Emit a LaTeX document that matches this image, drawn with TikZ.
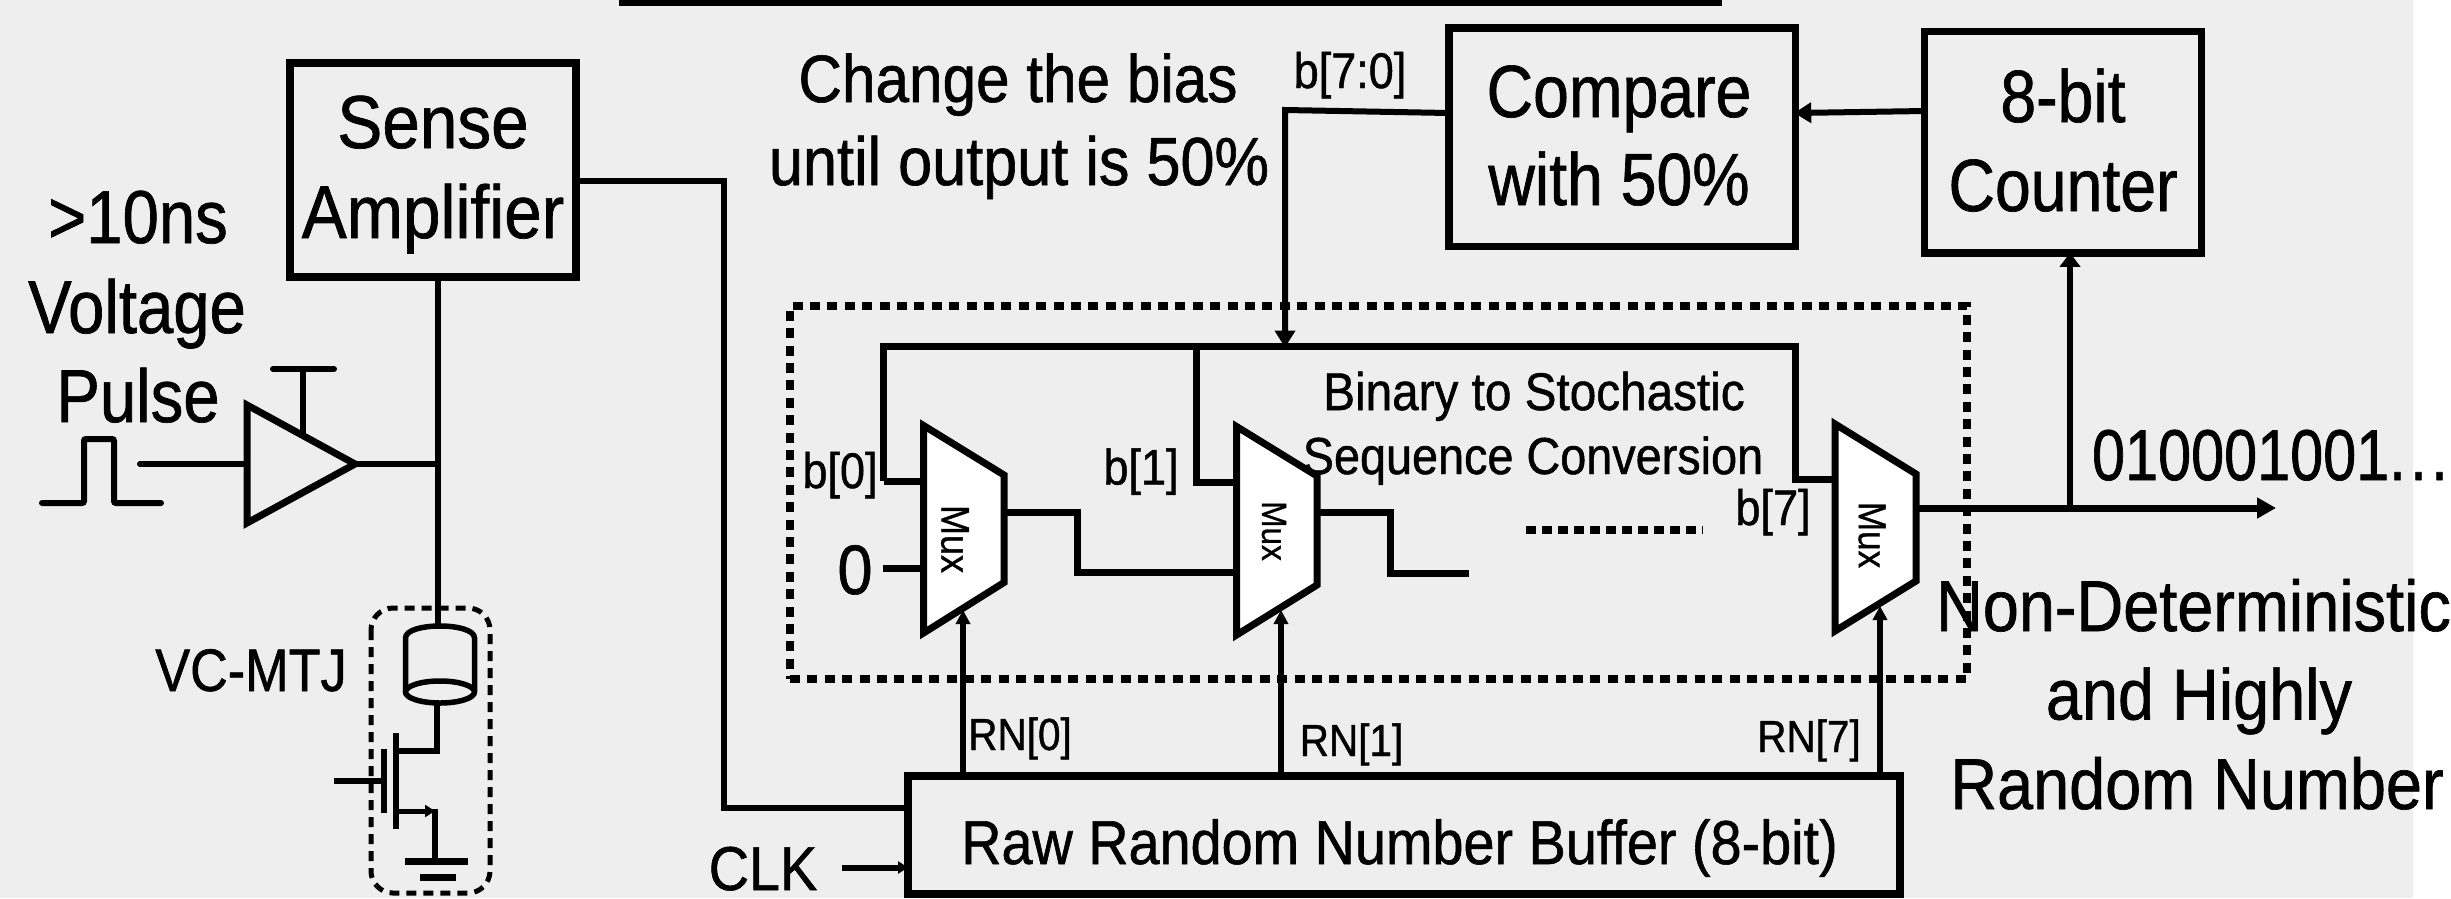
\documentclass[tikz,border=0pt]{standalone}
\usepackage{fontspec}
\setmainfont[FakeStretch=0.9,FakeBold=0.9]{Liberation Sans}
\newfontfamily\nar[FakeStretch=0.87,FakeBold=0.9]{Liberation Sans}
\newfontfamily\nnar[FakeStretch=0.825,FakeBold=0.9]{Liberation Sans}
\usetikzlibrary{arrows.meta}
\newcommand\fsz[2]{\fontsize{#1}{#2}\selectfont}
\definecolor{bgrey}{HTML}{EEEEEE}
\tikzset{
  x=1pt,y=-1pt,
  wire/.style={line width=6pt,line join=miter},
  thick wire/.style={line width=7pt},
  arrowwire/.style={line width=6pt,-{Triangle[length=17pt,width=20pt]},shorten >=-1pt},
  boxnode/.style={draw,line width=7.5pt,inner sep=0pt,outer sep=0pt,align=center},
  txt/.style={inner sep=0pt,outer sep=0pt,anchor=base},
  muxbody/.style={draw,fill=white,line width=7pt,line join=miter},
  muxtxt/.style={inner sep=0pt,rotate=-90},
  dottedbox/.style={draw,line width=8pt,dash pattern=on 10pt off 7.4pt,inner sep=0pt,outer sep=0pt},
  dashbox/.style={line width=5pt,dash pattern=on 10pt off 7pt,rounded corners=22pt},
}
\begin{document}
\begin{tikzpicture}
\useasboundingbox (0,0) rectangle (2451,898);
\clip (0,0) rectangle (2451,898);
\fill[bgrey] (0,0) rectangle (2413,898);
\fill[black] (619,0) rectangle (1722,6);

% conversion block frame
\node[dottedbox,minimum width=1177pt,minimum height=373pt] (conv) at (1378.5,492.5) {};
\coordinate (dotsa) at (1526,530);
\coordinate (dotsb) at (1703,530);
\draw[line width=8pt,dash pattern=on 10pt off 6pt] (dotsa) -- (dotsb);

% boxes
\node[boxnode,minimum width=286pt,minimum height=214pt,font=\fsz{75}{90},text height=136pt,text depth=0pt] (sa) at (433,170) {Sense\\Amplifier};
\node[boxnode,minimum width=346.5pt,minimum height=218.5pt,font=\nar\fsz{74}{88},text height=136pt,text depth=0pt] (cmp) at (1622,137) {Compare\kern6pt\\with 50\%\kern6pt};
\node[boxnode,minimum width=277pt,minimum height=221.5pt,font=\nar\fsz{74}{89},text height=138pt,text depth=0pt] (cnt) at (2063,142) {8-bit\\Counter};
\node[boxnode,minimum width=992pt,minimum height=118pt,font=\fsz{62}{62},text height=58pt,text depth=0pt] (buf) at (1404,835) {Raw Random Number Buffer (8-bit)\kern9pt};

% driver
\coordinate (bufa) at (247,405);
\coordinate (bufb) at (247,523);
\coordinate (tip) at (355,464);
\coordinate (rail) at (438,464);
\coordinate (gateT) at (302.5,369);
\coordinate (inp) at (140,464);
\draw[line width=7pt,line join=miter] (bufa) -- (tip) -- (bufb) -- cycle;
\draw[wire,line cap=round] (inp) -- (247,464);
\draw[wire] (tip) -- (rail);
\draw[wire] (gateT) -- (302.5,433);
\draw[wire,line cap=round] (273,369) -- (334,369);
\draw[wire,line cap=round,rounded corners=2pt] (42,503) -- (84,503) -- (84,439) -- (114,439) -- (114,503) -- (161,503);

% VC-MTJ
\coordinate (mtjtop) at (438,626);
\draw[line width=5.5pt] (sa.south -| rail) -- (mtjtop);
\draw[line width=5.5pt] (405.5,691) -- (405.5,638) .. controls (405.5,622) and (474.5,622) .. (474.5,638) -- (474.5,691);
\draw[line width=5.5pt] (440,692) ellipse [x radius=34.5,y radius=11];
\draw[wire] (437,703) -- (437,751) -- (395.5,751);
\draw[wire] (395.5,733) -- (395.5,829);
\draw[wire] (384,748.5) -- (384,813);
\draw[wire] (334,781) -- (384,781);
\draw[line width=5pt,-{Triangle[length=10pt,width=12pt]}] (395.5,811) -- (435,811);
\draw[wire] (435,809) -- (435,861);
\draw[thick wire] (405,861) -- (468,861);
\draw[thick wire] (420,877) -- (456,877);
\draw[dashbox] (371,608) rectangle (490,893);

% sense amp to buffer
\coordinate (bufin) at (908,808);
\draw[wire] (sa.east |- 0,181) -- (723.5,181) -- (723.5,808) -- (buf.west |- bufin);
\draw[wire,-{Triangle[length=10pt,width=12pt]}] (842,867.5) -- (buf.west |- 0,867.5);

% feedback
\coordinate (fbtop) at (1285,110);
\coordinate (bus) at (1285,346.5);
\draw[arrowwire] (cmp.west |- 0,113) -- (fbtop) -- (bus);
\draw[arrowwire] (cnt.west |- 0,111) -- (cmp.east |- 0,113);

% bias bus
\draw[thick wire,line cap=square] (883.5,481) -- (883.5,346.5) -- (1795.5,346.5) -- (1795.5,479) -- (1835,479);
\draw[thick wire] (883.5,481) -- (924,481);
\draw[thick wire] (1196,346.5) -- (1196,482) -- (1236.5,482);
\draw[thick wire] (883,568) -- (924,568);

% signal chain
\draw[thick wire] (1004,512.5) -- (1077.5,512.5) -- (1077.5,572) -- (1236.5,572);
\draw[thick wire] (1317,512) -- (1390,512) -- (1390,573) -- (1469,573);

% muxes
\draw[muxbody] (923.5,425.5) -- (1004,475) -- (1004,582.5) -- (923.5,633) -- cycle;
\draw[muxbody] (1236.5,426.5) -- (1317,476) -- (1317,585) -- (1236.5,635) -- cycle;
\draw[muxbody] (1835,424) -- (1916,474) -- (1916,581) -- (1835,631) -- cycle;
\node[muxtxt,font=\fsz{40}{40}] (m1) at (955,539) {Mux};
\node[muxtxt,font=\fsz{35}{35}] (m2) at (1274,531) {Mux};
\node[muxtxt,font=\fsz{39}{39}] (m3) at (1872,535) {Mux};

% random number lines
\draw[wire,-{Triangle[length=14pt,width=14pt]}] (963,776) -- (963,610);
\draw[wire,-{Triangle[length=14pt,width=14pt]}] (1281,776) -- (1281,610);
\draw[wire,-{Triangle[length=14pt,width=14pt]}] (1880,776) -- (1880,606);

% output
\coordinate (outtap) at (2070,508);
\draw[line width=7pt,-{Triangle[length=19pt,width=20pt]}] (1916,508) -- (2276,508);
\draw[wire,-{Triangle[length=14pt,width=20pt]}] (outtap) -- (cnt.south -| outtap);

% labels
\node[txt,font=\nar\fsz{75}{75}] (t1) at (138,243) {>10ns};
\node[txt,font=\nar\fsz{75}{75}] (t2) at (137,333) {Voltage};
\node[txt,font=\nar\fsz{75}{75}] (t3) at (138,422) {Pulse};
\node[txt,font=\nar\fsz{60}{60}] (t4) at (251,691) {VC-MTJ};
\node[txt,font=\fsz{62}{62}] (t5) at (763,890) {CLK};
\node[txt,font=\fsz{67}{67}] (t6) at (1018,102) {Change the bias};
\node[txt,font=\fsz{68}{68}] (t7) at (1019,185) {until output is 50\%};
\node[txt,font=\fsz{50}{50}] (t8) at (1350,88) {b[7:0]};
\node[txt,font=\fsz{50}{50}] (t9) at (840,488) {b[0]};
\node[txt,font=\fsz{50}{50}] (t10) at (1141,484.5) {b[1]};
\node[txt,font=\fsz{50}{50}] (t11) at (1773,525) {b[7]};
\node[txt,font=\fsz{70}{70}] (t12) at (855,594) {0};
\node[txt,font=\fsz{45}{45}] (t13) at (1020,750) {RN[0]};
\node[txt,font=\fsz{45}{45}] (t14) at (1351.5,756) {RN[1]};
\node[txt,font=\fsz{45}{45}] (t15) at (1809,752) {RN[7]};
\node[txt,font=\fsz{53}{53}] (t16) at (1534,410) {Binary to Stochastic};
\node[txt,font=\fsz{52}{52}] (t17) at (1533,474) {Sequence Conversion};
\node[txt,font=\nnar\fsz{72}{72},anchor=base west] (t18) at (2092,480) {010001001.\kern4.5pt.\kern4.5pt.};
\node[txt,font=\fsz{72}{72},anchor=base west] (t19) at (1936,631) {Non-Deterministic};
\node[txt,font=\fsz{72}{72}] (t20) at (2199,719.5) {and Highly};
\node[txt,font=\fsz{72}{72}] (t21) at (2197,809) {Random Number};
\end{tikzpicture}
\end{document}
